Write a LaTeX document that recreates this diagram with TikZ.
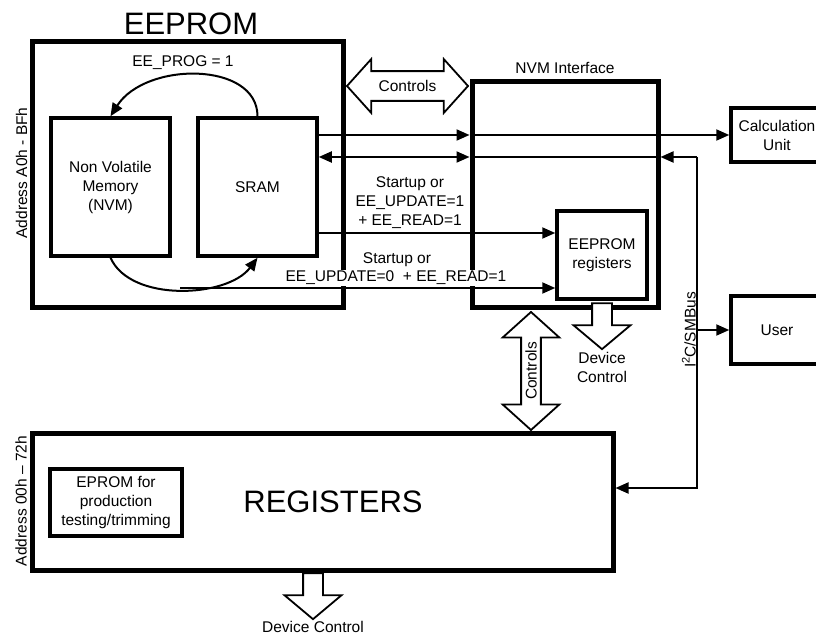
\documentclass[tikz,border=0pt]{standalone}
\usepackage{fontspec}
\setmainfont{Liberation Sans}
\usetikzlibrary{shapes.arrows}
\usetikzlibrary{arrows.meta}
\usetikzlibrary{positioning}
\tikzset{
big_box/.style={rectangle, draw, line width=5pt, inner sep=0pt},
small_box/.style={rectangle, draw, line width=3.5pt, inner sep=0pt, align=center, font=\fontsize{15.5}{19}\selectfont},
label_text/.style={align=center, inner sep=0pt, font=\fontsize{15.5}{19}\selectfont},
title_text/.style={inner sep=0pt, font=\fontsize{31}{36}\selectfont},
wire/.style={line width=2pt, -{Triangle[length=13pt,width=11pt]}},
wire_both/.style={line width=2pt, {Triangle[length=13pt,width=11pt]}-{Triangle[length=13pt,width=11pt]}},
ctrl_arrow/.style={double arrow, draw, fill=white, line width=1.8pt, double arrow tip angle=96, inner xsep=0pt, minimum width=0pt, font=\fontsize{15.5}{19}\selectfont},
out_arrow/.style={single arrow, draw, fill=white, line width=1.8pt, single arrow tip angle=100, single arrow head extend=18.5pt, inner xsep=0pt, inner ysep=9pt, minimum width=0pt, minimum height=46pt, rotate=-90}
}

\begin{document}
\begin{tikzpicture}[x=1pt, y=1pt]
    \useasboundingbox (0,0) rectangle (816,635);

    % EEPROM block
    \node[big_box, minimum width=311pt, minimum height=266pt] (eeprom_box) at (187.5,460) {};
    \node[title_text] (eeprom_title) [above=4.5pt of eeprom_box, xshift=3.5pt] {EEPROM};
    \node[small_box, minimum width=119pt, minimum height=138pt] (nvm_box) at (110.5,448) {Non Volatile\\Memory\\(NVM)};
    \node[small_box, minimum width=119pt, minimum height=138pt] (sram_box) at (257.5,448) {SRAM};
    \node[label_text, rotate=90] (addr_a0) at (21.5,462) {Address A0h - BFh};
    \node[label_text] (prog_label) at (183,572) {EE\_PROG = 1};
    \draw[wire] (sram_box.north) .. controls +(0,55) and +(35,55) .. (nvm_box.north);
    \draw[wire] (nvm_box.south) .. controls +(20,-45) and +(-30,-40) .. (sram_box.south);
    \coordinate (arc_low) at (180,347);

    % NVM interface
    \node[ctrl_arrow, minimum height=121pt, double arrow head extend=12pt, inner ysep=8.3pt] (ctrl_h) at (407.5,549) {Controls};
    \node[big_box, minimum width=186pt, minimum height=226pt] (nvmif_box) at (565,440) {};
    \node[label_text] (nvmif_label) [above=6pt of nvmif_box] {NVM Interface};
    \node[out_arrow] (devctl_arrow_1) at (602,313) {};
    \node[small_box, minimum width=90pt, minimum height=88pt] (eereg_box) at (602,380) {EEPROM\\registers};
    \node[label_text] (devctl_label_1) [below=2pt of devctl_arrow_1.tip] {Device\\Control};
    \node[small_box, minimum width=92pt, minimum height=54pt] (calc_box) at (777,500) {Calculation\\Unit};
    \node[small_box, minimum width=92pt, minimum height=68pt] (user_box) at (777,305) {User};

    % data paths
    \coordinate (i2c_top) at (697,478);
    \coordinate (i2c_bot) at (697,147);
    \draw[wire] (sram_box.east |- calc_box.west) -- (nvmif_box.west |- calc_box.west);
    \draw[wire] (nvmif_box.west |- calc_box.west) -- (calc_box.west);
    \draw[wire_both] (sram_box.east |- i2c_top) -- (nvmif_box.west |- i2c_top);
    \draw[line width=2pt] (nvmif_box.west |- i2c_top) -- (nvmif_box.east |- i2c_top);
    \draw[wire] (i2c_top) -- (nvmif_box.east |- i2c_top);
    \draw[wire] ([yshift=-46pt]sram_box.east) coordinate (startup_1) -- (eereg_box.west |- startup_1);
    \draw[wire] (arc_low) -- (eereg_box.west |- arc_low);
    \node[label_text] (startup_1_label) at (410,432) {Startup or\\EE\_UPDATE=1\\+ EE\_READ=1};
    \node[label_text] (startup_2_top) at (397,375) {Startup or};
    \node[label_text, fill=white, inner ysep=1pt] (startup_2_label) at (396,357) {EE\_UPDATE=0\ \ + EE\_READ=1};

    % registers
    \node[ctrl_arrow, rotate=90, minimum height=118pt, double arrow head extend=18.5pt, inner ysep=3.3pt] (ctrl_v) at (531,264) {Controls};
    \node[out_arrow] (devctl_arrow_2) at (313,43) {};
    \node[big_box, minimum width=581pt, minimum height=137pt] (regs_box) at (322.5,133.5) {};
    \node[title_text] (regs_label) at (333,133) {REGISTERS};
    \node[small_box, minimum width=132pt, minimum height=67pt] (eprom_box) at (116,132.5) {EPROM for\\production\\testing/trimming};
    \node[label_text, rotate=90] (addr_00) at (21,134) {Address 00h – 72h};
    \node[label_text] (devctl_label_2) [below=0.5pt of devctl_arrow_2.tip] {Device Control};

    % I2C bus
    \draw[wire] (i2c_top) -- (i2c_bot) -- (regs_box.east |- i2c_bot);
    \draw[wire] (i2c_top |- user_box.west) -- (user_box.west);
    \node[label_text, rotate=90, anchor=south] (i2c_label) at (696,305) {I\raisebox{6pt}{\fontsize{11}{12}\selectfont 2}C/SMBus};
\end{tikzpicture}
\end{document}
